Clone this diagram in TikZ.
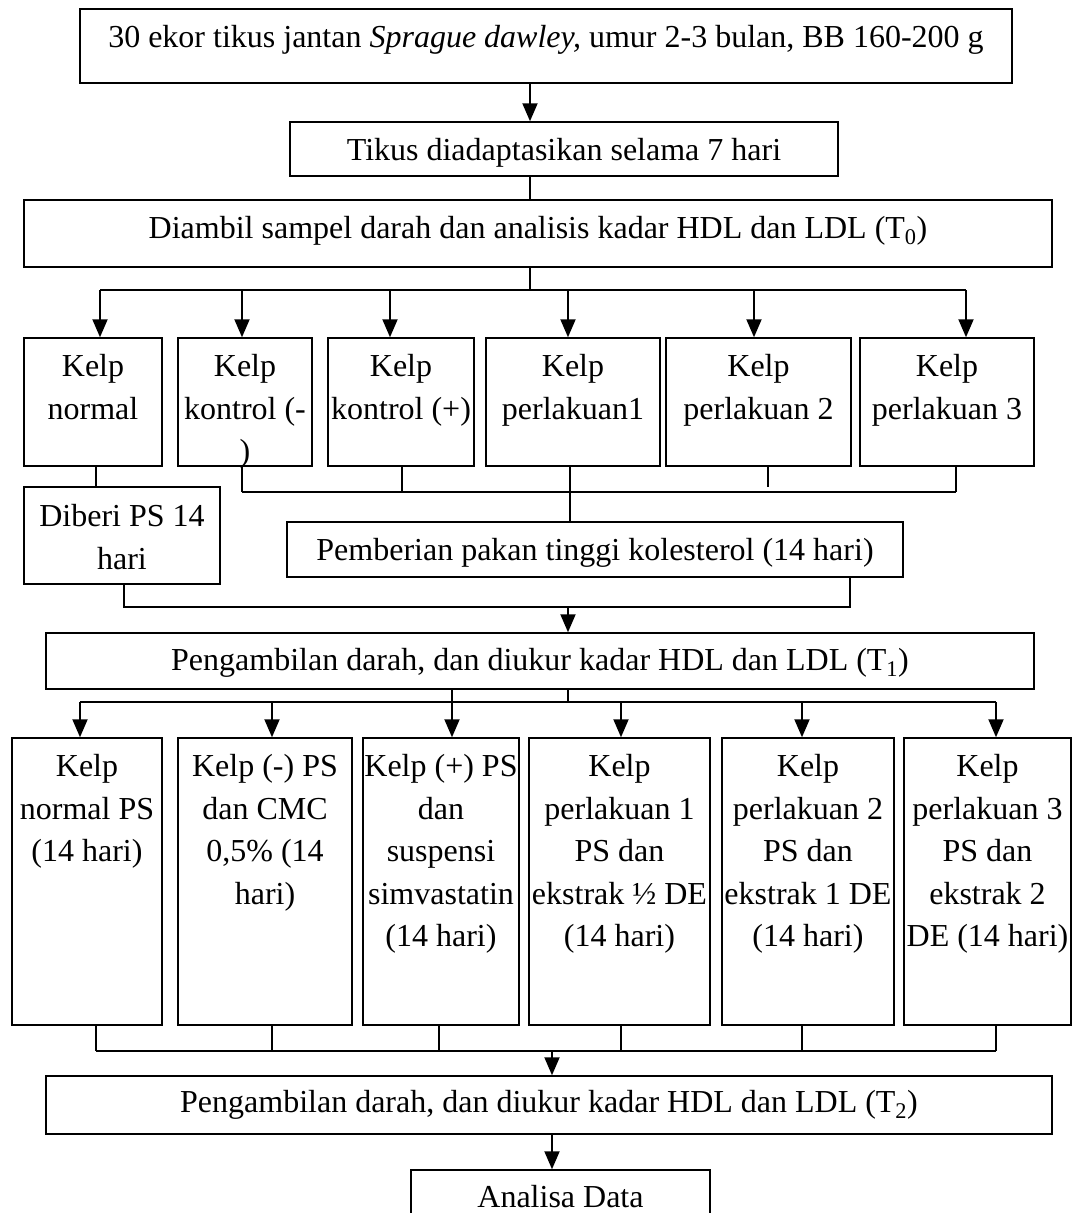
\documentclass[tikz,border=0pt]{standalone}
\usepackage{fontspec}
\setmainfont{Liberation Serif}
\usepackage{tikz}
\usetikzlibrary{arrows.meta}

\begin{document}
\begin{tikzpicture}[x=1pt, y=-1pt,
        kotak/.style={draw, line width=1.5pt, inner sep=0pt},
        teks/.style={inner sep=0pt, align=center, anchor=north,
            font=\fontsize{32}{42.5}\selectfont},
        garis/.style={line width=1.5pt},
        panah/.style={line width=2pt, -{Triangle[length=18pt, width=15pt]}}]
        \clip (0,0) rectangle (1073,1213);
        \useasboundingbox (0,0) rectangle (1073,1213);

        % tahap awal
        \node[kotak, minimum width=932pt, minimum height=74pt] (awal) at (546,46) {};
        \node[teks] (awalT) at ([yshift=-17pt]awal.north) {30 ekor tikus jantan \textit{Sprague dawley,} umur 2-3 bulan, BB 160-200 g};
        \node[kotak, minimum width=548pt, minimum height=54pt] (adapt) at (564,149) {};
        \node[teks] (adaptT) at ([yshift=-17pt]adapt.north) {Tikus diadaptasikan selama 7 hari};
        \node[kotak, minimum width=1028pt, minimum height=67pt] (t0) at (538,233.5) {};
        \node[teks] (t0T) at ([yshift=-17pt]t0.north) {Diambil sampel darah dan analisis kadar HDL dan LDL (T\textsubscript{0})};

        % kelompok
        \node[kotak, minimum width=138pt, minimum height=128pt] (k1) at (93,402) {};
        \node[kotak, minimum width=134pt, minimum height=128pt] (k2) at (245,402) {};
        \node[kotak, minimum width=146pt, minimum height=128pt] (k3) at (401,402) {};
        \node[kotak, minimum width=174pt, minimum height=128pt] (k4) at (573,402) {};
        \node[kotak, minimum width=185pt, minimum height=128pt] (k5) at (758.5,402) {};
        \node[kotak, minimum width=174pt, minimum height=128pt] (k6) at (947,402) {};
        \node[teks] (k1T) at ([yshift=-17pt]k1.north) {Kelp\\normal};
        \node[teks] (k2T) at ([yshift=-17pt]k2.north) {Kelp\\kontrol (-\\)};
        \node[teks] (k3T) at ([yshift=-17pt]k3.north) {Kelp\\kontrol (+)};
        \node[teks] (k4T) at ([yshift=-17pt]k4.north) {Kelp\\perlakuan1};
        \node[teks] (k5T) at ([yshift=-17pt]k5.north) {Kelp\\perlakuan 2};
        \node[teks] (k6T) at ([yshift=-17pt]k6.north) {Kelp\\perlakuan 3};

        \node[kotak, minimum width=196pt, minimum height=97pt] (ps) at (122,535.5) {};
        \node[teks] (psT) at ([yshift=-18pt]ps.north) {Diberi PS 14\\hari};
        \node[kotak, minimum width=616pt, minimum height=55pt] (pakan) at (595,549.5) {};
        \node[teks] (pakanT) at ([yshift=-17pt]pakan.north) {Pemberian pakan tinggi kolesterol (14 hari)};

        \node[kotak, minimum width=988pt, minimum height=56pt] (t1) at (540,661) {};
        \node[teks] (t1T) at ([yshift=-16pt]t1.north) {Pengambilan darah, dan diukur kadar HDL dan LDL (T\textsubscript{1})};

        % perlakuan
        \node[kotak, minimum width=150pt, minimum height=287pt] (m1) at (87,881.5) {};
        \node[kotak, minimum width=174pt, minimum height=287pt] (m2) at (265,881.5) {};
        \node[kotak, minimum width=156pt, minimum height=287pt] (m3) at (441,881.5) {};
        \node[kotak, minimum width=181pt, minimum height=287pt] (m4) at (619.5,881.5) {};
        \node[kotak, minimum width=172pt, minimum height=287pt] (m5) at (808,881.5) {};
        \node[kotak, minimum width=167pt, minimum height=287pt] (m6) at (987.5,881.5) {};
        \node[teks] (m1T) at ([yshift=-17pt]m1.north) {Kelp\\normal PS\\(14 hari)};
        \node[teks] (m2T) at ([yshift=-17pt]m2.north) {Kelp (-) PS\\dan CMC\\0,5\% (14\\hari)};
        \node[teks] (m3T) at ([yshift=-17pt]m3.north) {Kelp (+) PS\\dan\\suspensi\\simvastatin\\(14 hari)};
        \node[teks] (m4T) at ([yshift=-17pt]m4.north) {Kelp\\perlakuan 1\\PS dan\\ekstrak ½ DE\\(14 hari)};
        \node[teks] (m5T) at ([yshift=-17pt]m5.north) {Kelp\\perlakuan 2\\PS dan\\ekstrak 1 DE\\(14 hari)};
        \node[teks] (m6T) at ([yshift=-17pt]m6.north) {Kelp\\perlakuan 3\\PS dan\\ekstrak 2\\DE (14 hari)};

        \node[kotak, minimum width=1006pt, minimum height=58pt] (t2) at (549,1105) {};
        \node[teks] (t2T) at ([yshift=-15pt]t2.north) {Pengambilan darah, dan diukur kadar HDL dan LDL (T\textsubscript{2})};
        \node[kotak, minimum width=299pt, minimum height=70pt] (data) at (560.5,1205) {};
        \node[teks] (dataT) at ([yshift=-16pt]data.north) {Analisa Data};

        % titik cabang
        \coordinate (c1) at (530,290);
        \coordinate (c2) at (570,492);
        \coordinate (c3) at (568,607);
        \coordinate (c4) at (568,702);
        \coordinate (c5) at (552,1051);

        \draw[panah] (awal.south -| c1) -- (adapt.north -| c1);
        \draw[garis] (adapt.south -| c1) -- (t0.north -| c1);
        \draw[garis] (t0.south -| c1) -- (c1);
        \draw[line width=2.5pt] (100,290) -- (966,290);
        \foreach \k/\x in {k1/100, k2/242, k3/390, k4/568, k5/754, k6/966}
            \draw[panah] (\x,290) -- (\x,0 |- \k.north);

        \draw[garis] (96,0 |- k1.south) -- (96,0 |- ps.north);
        \draw[garis] (242,0 |- k2.south) -- (242,492);
        \draw[garis] (402,0 |- k3.south) -- (402,492);
        \draw[garis] (c2 |- k4.south) -- (c2 |- pakan.north);
        \draw[garis] (768,0 |- k5.south) -- (768,487);
        \draw[garis] (956,0 |- k6.south) -- (956,492);
        \draw[garis] (242,492) -- (956,492);

        \draw[garis] (124,0 |- ps.south) -- (124,607) -- (850,607) -- (850,0 |- pakan.south);
        \draw[panah] (c3) -- (c3 |- t1.north);

        \draw[garis] (452,0 |- t1.south) -- (452,702);
        \draw[garis] (t1.south -| c4) -- (c4);
        \draw[line width=2.5pt] (80,702) -- (996,702);
        \foreach \m/\x in {m1/80, m2/272, m3/452, m4/621, m5/802, m6/996}
            \draw[panah] (\x,702) -- (\x,0 |- \m.north);

        \foreach \m/\x in {m1/96, m2/272, m3/439, m4/621, m5/802, m6/996}
            \draw[garis] (\x,0 |- \m.south) -- (\x,1051);
        \draw[line width=2pt] (96,1051) -- (996,1051);
        \draw[panah] (c5) -- (c5 |- t2.north);
        \draw[panah] (t2.south -| c5) -- (data.north -| c5);
    \end{tikzpicture}
\end{document}
